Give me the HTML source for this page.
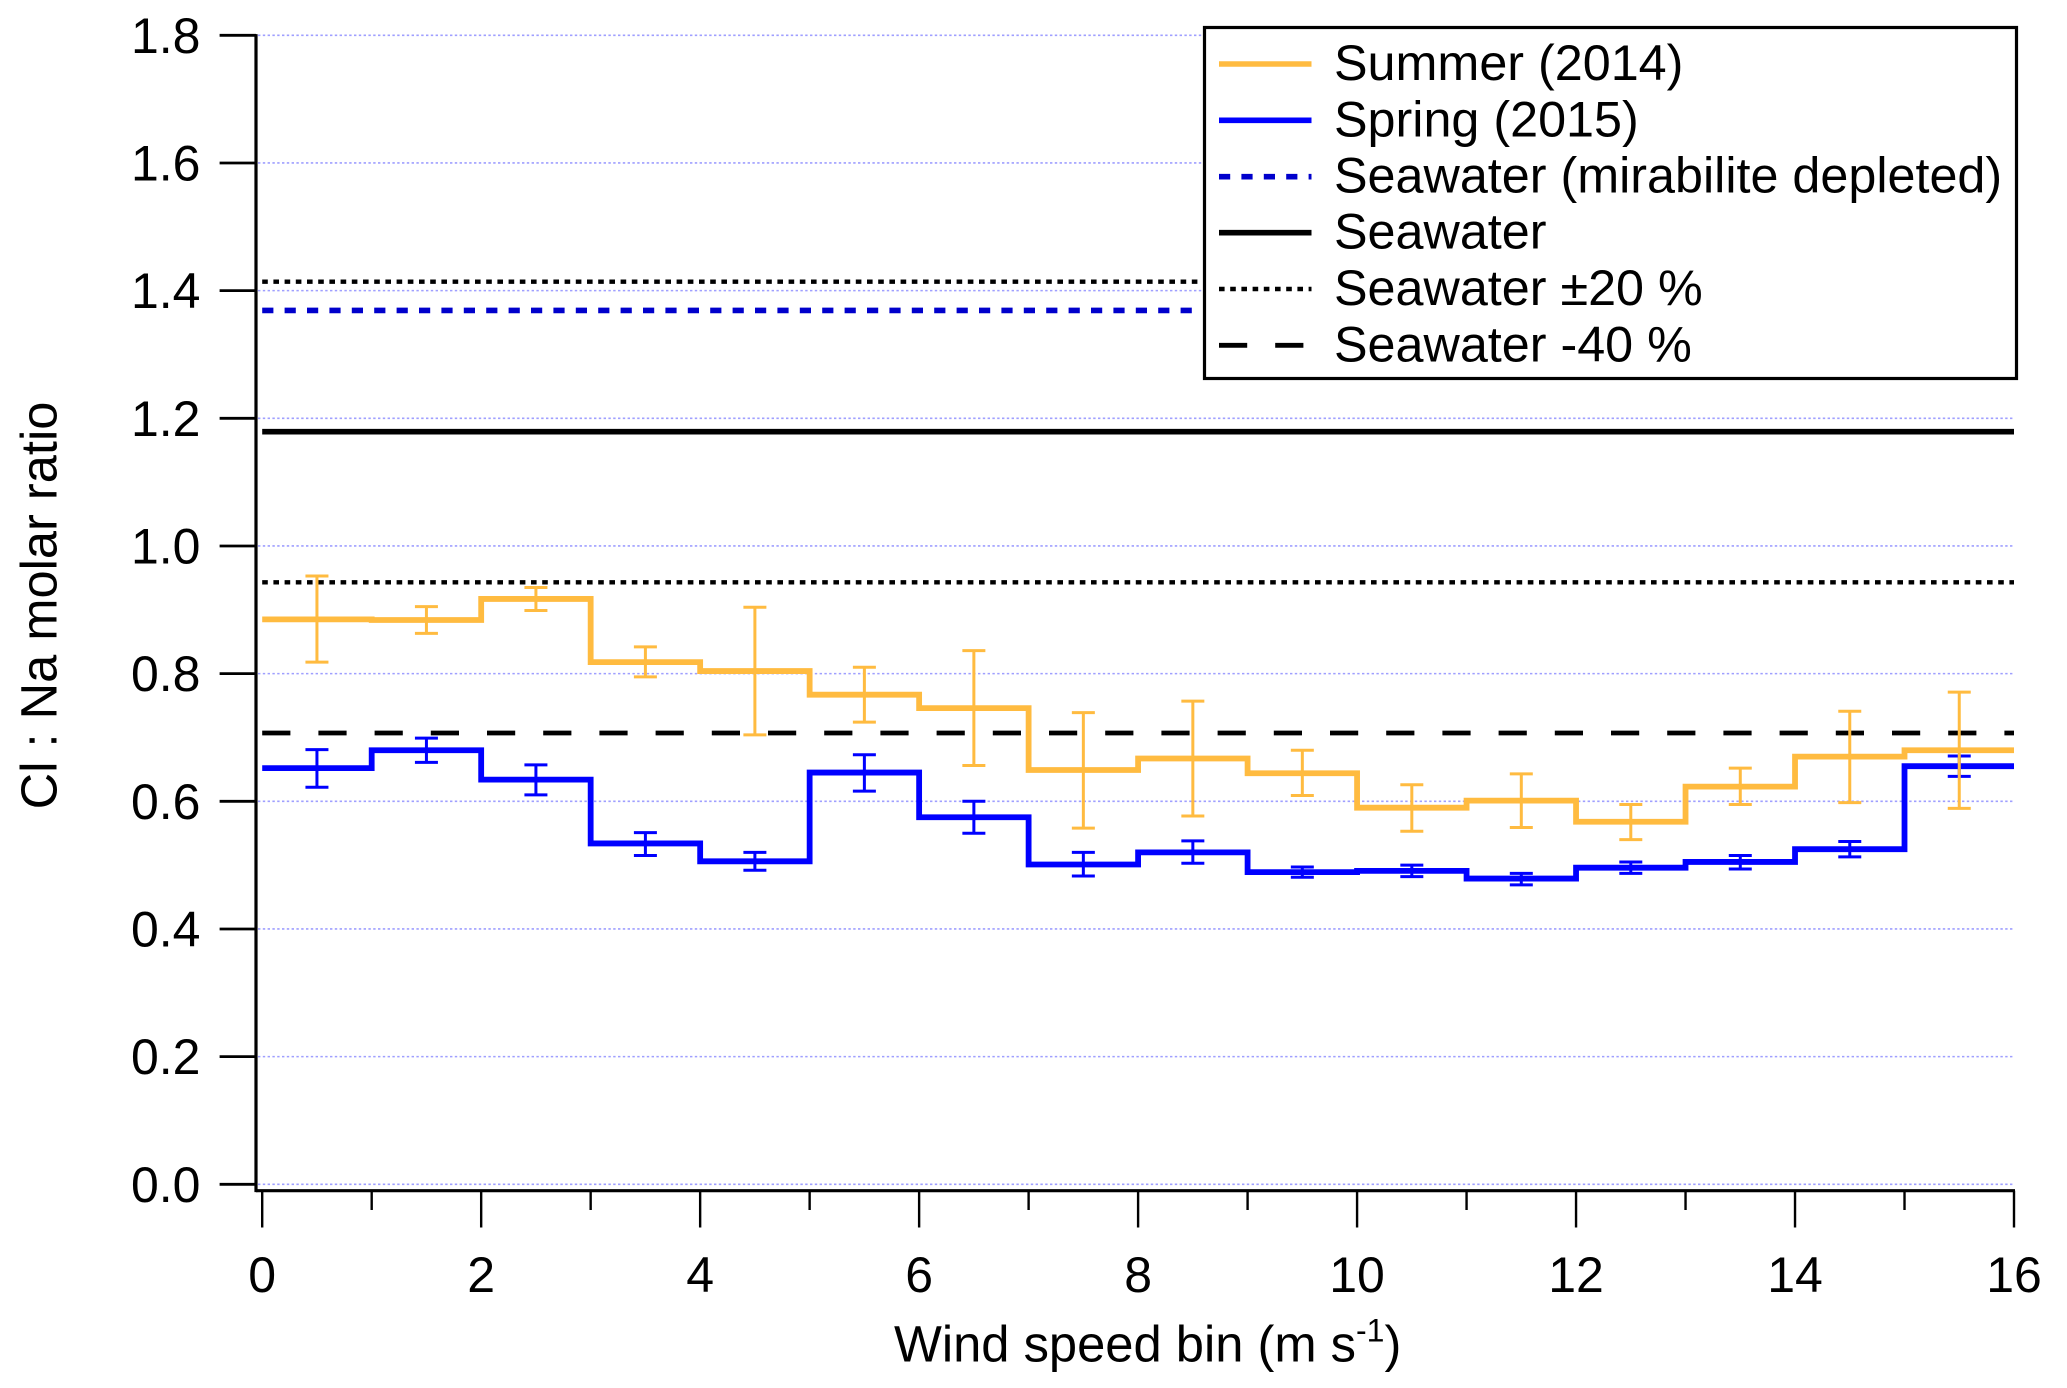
<!DOCTYPE html>
<html lang="en">
<head>
<meta charset="utf-8">
<title>Cl : Na molar ratio by wind speed bin</title>
<style>
html,body{margin:0;padding:0;background:#fff;}
svg{display:block;}
text{font-family:"Liberation Sans",Arial,sans-serif;fill:#000;}
</style>
</head>
<body>
<svg id="chart" xmlns="http://www.w3.org/2000/svg" width="2067" height="1388" viewBox="0 0 2067 1388">
  <rect x="0" y="0" width="2067" height="1388" fill="#ffffff"/>
  <g id="grid-layer"></g>
  <g id="reference-layer"></g>
  <g id="spring-layer"></g>
  <g id="summer-layer"></g>
  <g id="axis-layer"></g>

  <text transform="translate(56.7 605.5) rotate(-90)" text-anchor="middle" font-size="50.6">Cl : Na molar ratio</text>
  <text x="894" y="1361.5" font-size="50.7">Wind speed bin (m s<tspan font-size="32" dy="-20">-1</tspan><tspan dy="20">)</tspan></text>

  <g>
    <rect x="1204.5" y="27.5" width="812" height="351" fill="#ffffff" stroke="#000000" stroke-width="3.2"/>
    <g>
      <line x1="1219" x2="1311.5" y1="64" y2="64" stroke="#ffbb40" stroke-width="5.6"/>
      <text x="1334" y="80" font-size="50.3">Summer (2014)</text>
    </g>
    <g>
      <line x1="1219" x2="1311.5" y1="120.3" y2="120.3" stroke="#0000ff" stroke-width="5.6"/>
      <text x="1334" y="136.3" font-size="50.3">Spring (2015)</text>
    </g>
    <g>
      <line x1="1219" x2="1311.5" y1="176.7" y2="176.7" stroke="#0000cc" stroke-width="5.6" stroke-dasharray="11.2 11.2"/>
      <text x="1334" y="192.7" font-size="50.3">Seawater (mirabilite depleted)</text>
    </g>
    <g>
      <line x1="1219" x2="1311.5" y1="232.7" y2="232.7" stroke="#000000" stroke-width="5.6"/>
      <text x="1334" y="248.7" font-size="50.3">Seawater</text>
    </g>
    <g>
      <line x1="1219" x2="1311.5" y1="289" y2="289" stroke="#000000" stroke-width="4.4" stroke-dasharray="5.6 5.6"/>
      <text x="1334" y="305" font-size="50.3">Seawater ±20 %</text>
    </g>
    <g>
      <line x1="1219" x2="1311.5" y1="345.3" y2="345.3" stroke="#000000" stroke-width="4.8" stroke-dasharray="28.2 28"/>
      <text x="1334" y="361.3" font-size="50.3">Seawater -40 %</text>
    </g>
  </g>
</svg>

<script>
// Chart data
const binStarts = [0, 1, 2, 3, 4, 5, 6, 7, 8, 9, 10, 11, 12, 13, 14, 15];
const summerValues = [0.885, 0.884, 0.917, 0.818, 0.804, 0.767, 0.746, 0.649, 0.667, 0.644, 0.590, 0.601, 0.568, 0.623, 0.670, 0.680];
const summerUpper = [0.953, 0.905, 0.935, 0.842, 0.904, 0.810, 0.836, 0.739, 0.757, 0.680, 0.626, 0.643, 0.595, 0.652, 0.741, 0.771];
const summerLower = [0.818, 0.863, 0.899, 0.795, 0.704, 0.724, 0.656, 0.558, 0.577, 0.609, 0.553, 0.559, 0.540, 0.595, 0.598, 0.589];
const springValues = [0.652, 0.680, 0.634, 0.534, 0.506, 0.645, 0.575, 0.501, 0.520, 0.489, 0.491, 0.479, 0.496, 0.505, 0.525, 0.655];
const springUpper = [0.681, 0.699, 0.657, 0.551, 0.520, 0.673, 0.600, 0.520, 0.538, 0.497, 0.500, 0.487, 0.505, 0.515, 0.537, 0.671];
const springLower = [0.622, 0.661, 0.610, 0.515, 0.492, 0.616, 0.550, 0.483, 0.503, 0.481, 0.482, 0.469, 0.487, 0.494, 0.513, 0.639];
const seawaterRatio = 1.179;
const seawaterPlus20 = 1.414;
const seawaterMinus20 = 0.943;
const seawaterMinus40 = 0.707;
const mirabiliteDepleted = 1.369;
const yTickValues = [0.0, 0.2, 0.4, 0.6, 0.8, 1.0, 1.2, 1.4, 1.6, 1.8];
const yTickLabels = ['0.0', '0.2', '0.4', '0.6', '0.8', '1.0', '1.2', '1.4', '1.6', '1.8'];
const xMajorTicks = [0, 2, 4, 6, 8, 10, 12, 14, 16];
const xMajorLabels = ['0', '2', '4', '6', '8', '10', '12', '14', '16'];
const xMinorTicks = [1, 3, 5, 7, 9, 11, 13, 15];

// Axis functions
const xDomain = [0, 16];
const yDomain = [0, 1.8];
const xRange = [262.2, 2014];
const yRange = [1184.3, 35.3];
const axisX = 256;
const axisY = 1190.7;
function xScale(v) {
  return xRange[0] + (v - xDomain[0]) / (xDomain[1] - xDomain[0]) * (xRange[1] - xRange[0]);
}
function yScale(v) {
  return yRange[0] + (v - yDomain[0]) / (yDomain[1] - yDomain[0]) * (yRange[1] - yRange[0]);
}

const NS = 'http://www.w3.org/2000/svg';
function svgEl(tag, attrs, parent) {
  const el = document.createElementNS(NS, tag);
  for (const k in attrs) el.setAttribute(k, attrs[k]);
  parent.appendChild(el);
  return el;
}

const gridLayer = document.getElementById('grid-layer');
const referenceLayer = document.getElementById('reference-layer');
const springLayer = document.getElementById('spring-layer');
const summerLayer = document.getElementById('summer-layer');
const axisLayer = document.getElementById('axis-layer');

// Gridlines
yTickValues.forEach(function (v) {
  const grid = svgEl('line', {x1: axisX + 2, x2: xRange[1], y1: yScale(v), y2: yScale(v), stroke: '#9f9fff', 'stroke-width': 1.6, 'stroke-dasharray': '2.4 2.4'}, gridLayer);
  
  
});

// Reference lines
function drawReference(value, color, width, dash, name) {
  const ref = svgEl('line', {x1: xRange[0], x2: xRange[1], y1: yScale(value), y2: yScale(value), stroke: color, 'stroke-width': width}, referenceLayer);
  if (dash) ref.setAttribute('stroke-dasharray', dash);
  
  
}
drawReference(seawaterPlus20, '#000000', 4.4, '5.6 5.6', 'seawater-plus-20-line');
drawReference(mirabiliteDepleted, '#0000cc', 5.6, '11.2 11.2', 'seawater-mirabilite-depleted-line');
drawReference(seawaterRatio, '#000000', 5.6, null, 'seawater-line');
drawReference(seawaterMinus20, '#000000', 4.4, '5.6 5.6', 'seawater-minus-20-line');
drawReference(seawaterMinus40, '#000000', 4.8, '28.2 28', 'seawater-minus-40-line');

// Step series with error bars
function drawSeries(values, upper, lower, color, layer, prefix) {
  let d = '';
  values.forEach(function (v, i) {
    const x0 = xScale(binStarts[i]);
    const x1 = xScale(binStarts[i] + 1);
    const y = yScale(v);
    d += (i === 0 ? 'M' : 'L') + x0 + ' ' + y + ' L' + x1 + ' ' + y + ' ';
  });
  const step = svgEl('path', {d: d, fill: 'none', stroke: color, 'stroke-width': 5.8, 'stroke-linejoin': 'miter'}, layer);
  
  
  values.forEach(function (v, i) {
    const cx = xScale(binStarts[i] + 0.5);
    const yTop = yScale(upper[i]);
    const yBottom = yScale(lower[i]);
    const stem = svgEl('line', {x1: cx, x2: cx, y1: yTop, y2: yBottom, stroke: color, 'stroke-width': 3}, layer);
    
    
    const capTop = svgEl('line', {x1: cx - 11.5, x2: cx + 11.5, y1: yTop, y2: yTop, stroke: color, 'stroke-width': 3}, layer);
    
    
    const capBottom = svgEl('line', {x1: cx - 11.5, x2: cx + 11.5, y1: yBottom, y2: yBottom, stroke: color, 'stroke-width': 3}, layer);
    
    
  });
}
drawSeries(springValues, springUpper, springLower, '#0000ff', springLayer, 'spring');
drawSeries(summerValues, summerUpper, summerLower, '#ffbb40', summerLayer, 'summer');

// Axes
const yAxisLine = svgEl('line', {x1: axisX, x2: axisX, y1: yScale(1.8) - 1.2, y2: axisY + 1.4, stroke: '#000000', 'stroke-width': 3.2}, axisLayer);


const xAxisLine = svgEl('line', {x1: axisX, x2: xRange[1] + 1, y1: axisY, y2: axisY, stroke: '#000000', 'stroke-width': 3.2}, axisLayer);



yTickValues.forEach(function (v, i) {
  const tick = svgEl('line', {x1: 219.6, x2: axisX, y1: yScale(v), y2: yScale(v), stroke: '#000000', 'stroke-width': 2.8}, axisLayer);
  
  
  const label = svgEl('text', {x: 200.5, y: yScale(v) + 17.6, 'text-anchor': 'end', 'font-size': 50}, axisLayer);
  label.textContent = yTickLabels[i];
  
  
});

xMajorTicks.forEach(function (v, i) {
  const tick = svgEl('line', {x1: xScale(v), x2: xScale(v), y1: axisY, y2: 1227.5, stroke: '#000000', 'stroke-width': 2.4}, axisLayer);
  
  
  const label = svgEl('text', {x: xScale(v), y: 1292, 'text-anchor': 'middle', 'font-size': 50}, axisLayer);
  label.textContent = xMajorLabels[i];
  
  
});

xMinorTicks.forEach(function (v) {
  const tick = svgEl('line', {x1: xScale(v), x2: xScale(v), y1: axisY, y2: 1210, stroke: '#000000', 'stroke-width': 2.4}, axisLayer);
  
  
});
</script>
</body>
</html>
